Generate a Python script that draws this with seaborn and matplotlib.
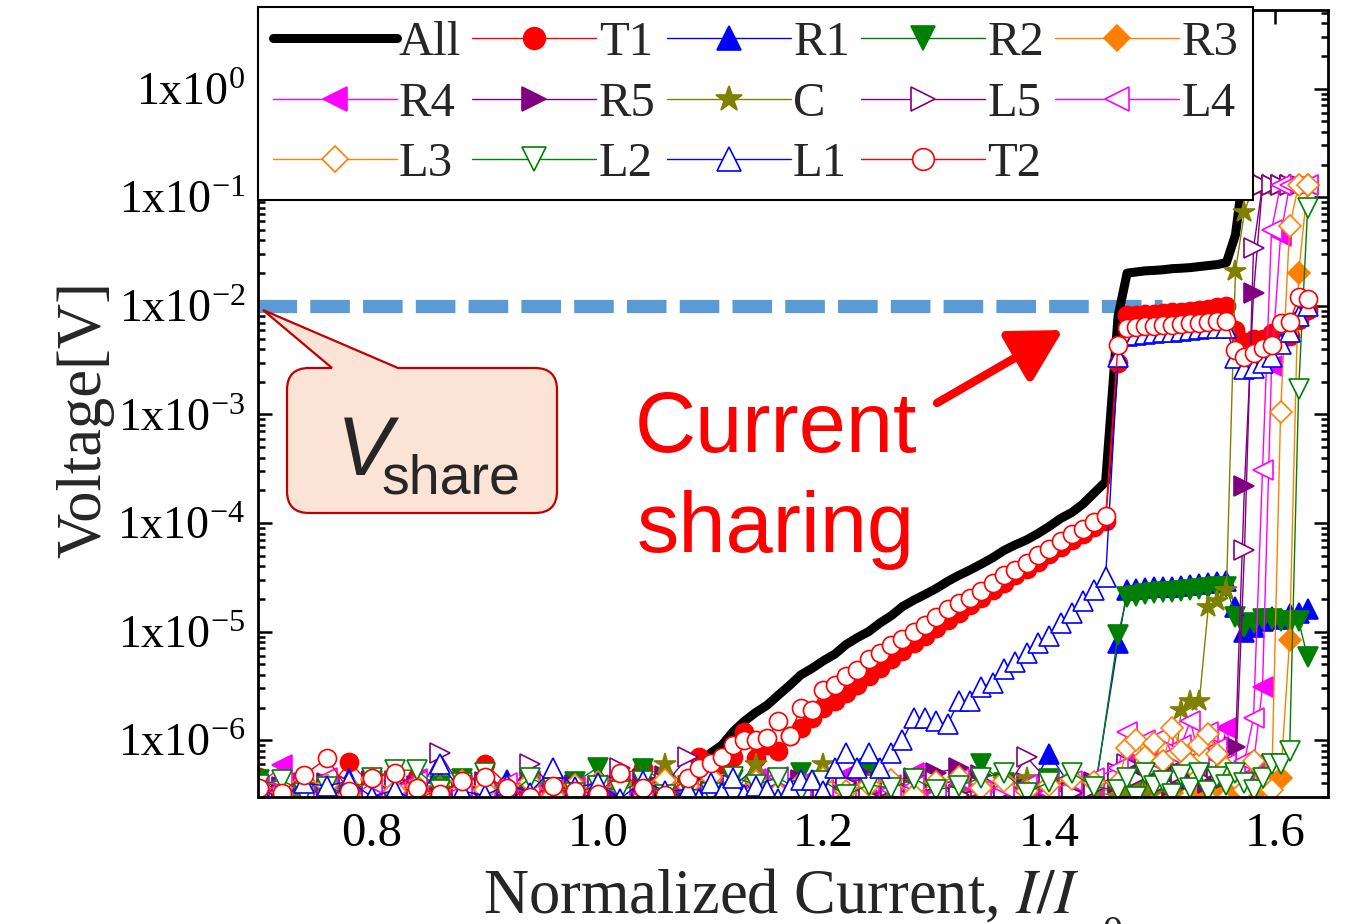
import matplotlib
matplotlib.use('Agg')
import matplotlib.pyplot as plt
import numpy as np
import pandas as pd
import seaborn as sns
from matplotlib.ticker import FuncFormatter, MultipleLocator, FormatStrFormatter, LogLocator, NullFormatter
from matplotlib.path import Path
from matplotlib.patches import PathPatch

# ---- x grids (normalized current I/Ic0) ----
x_lo = [0.70, 0.72, 0.74, 0.76, 0.78, 0.80, 0.82, 0.84, 0.86, 0.88, 0.90, 0.92, 0.94, 0.96, 0.98,
        1.00, 1.02, 1.04, 1.06]
x_mid = [1.08, 1.10, 1.12, 1.14, 1.16, 1.18, 1.20, 1.22, 1.24, 1.26, 1.28, 1.30, 1.32, 1.34, 1.36,
         1.38, 1.40, 1.42, 1.44]
x_rise = [1.08, 1.09, 1.10, 1.11, 1.12, 1.13, 1.14, 1.15, 1.16, 1.17, 1.18, 1.19, 1.20, 1.21, 1.22,
          1.23, 1.24, 1.25, 1.26, 1.27, 1.28, 1.29, 1.30, 1.31, 1.32, 1.33, 1.34, 1.35, 1.36, 1.37,
          1.38, 1.39, 1.40, 1.41, 1.42, 1.43, 1.44, 1.45]
x_share = [1.461, 1.469, 1.477, 1.485, 1.493, 1.501, 1.509, 1.517, 1.525, 1.533, 1.541, 1.549, 1.557]
x_high = [1.565, 1.573, 1.581, 1.589, 1.597, 1.605, 1.613, 1.621, 1.629]

# ---- voltages [V] ----
v_all_lo = [2.5e-7, 2.8e-7, 2.4e-7, 3.0e-7, 2.6e-7, 2.7e-7, 2.5e-7, 2.9e-7, 2.4e-7, 2.6e-7, 2.8e-7, 2.5e-7,
            2.7e-7, 2.4e-7, 3.1e-7, 2.6e-7, 3.2e-7, 2.8e-7, 3.3e-7]
v_all_rise = [3.5e-7, 5.0e-7, 7.6e-7, 9.0e-7, 1.2e-6, 1.5e-6, 1.8e-6, 2.1e-6, 2.6e-6, 3.2e-6, 4.0e-6, 4.6e-6,
              5.4e-6, 6.2e-6, 7.6e-6, 8.8e-6, 1.0e-5, 1.2e-5, 1.4e-5, 1.7e-5, 1.95e-5, 2.2e-5, 2.5e-5, 2.9e-5,
              3.3e-5, 3.7e-5, 4.2e-5, 4.8e-5, 5.6e-5, 6.3e-5, 7.0e-5, 8.0e-5, 9.3e-5, 1.1e-4, 1.25e-4, 1.5e-4,
              1.9e-4, 2.4e-4]
v_all_share = [8.0e-3, 2.0e-2, 2.05e-2, 2.1e-2, 2.12e-2, 2.15e-2, 2.2e-2, 2.22e-2, 2.25e-2, 2.3e-2, 2.35e-2,
               2.4e-2, 2.5e-2]
v_all_top = [4.5e-2, 0.2]

v_t1_lo = [4.6e-7, 3.0e-7, 4.1e-7, 3.4e-7, 6.3e-7, 3.8e-7, 2.8e-7, 4.6e-7, 3.6e-7, 3.1e-7, 6.1e-7, 3.9e-7,
           2.9e-7, 4.4e-7, 3.5e-7, 3.7e-7, 4.8e-7, 5.6e-7, 4.0e-7]
v_t1_rise = [4.0e-7, 7.0e-7, 5.0e-7, 6.0e-7, 7.0e-7, 1.2e-6, 6.8e-7, 9.0e-7, 8.0e-7, 1.1e-6, 1.3e-6, 1.6e-6,
             2.0e-6, 2.3e-6, 2.7e-6, 3.2e-6, 3.9e-6, 4.6e-6, 5.6e-6, 6.6e-6, 7.8e-6, 9.2e-6, 1.08e-5, 1.27e-5,
             1.5e-5, 1.75e-5, 2.05e-5, 2.4e-5, 2.8e-5, 3.3e-5, 3.8e-5, 4.4e-5, 5.2e-5, 6.0e-5, 7.0e-5, 8.0e-5,
             9.2e-5, 1.05e-4]
v_t1_share = [3.0e-3, 8.2e-3, 8.3e-3, 8.4e-3, 8.5e-3, 8.6e-3, 8.7e-3, 8.8e-3, 9.0e-3, 9.2e-3, 9.4e-3, 9.7e-3, 1.0e-2]
v_t1_high = [6.0e-3, 4.6e-3, 4.9e-3, 5.0e-3, 5.6e-3, 5.0e-3, 5.3e-3, 7.4e-3, 9.2e-3]

v_t2_lo = [3.6e-7, 3.3e-7, 4.8e-7, 6.8e-7, 3.4e-7, 4.5e-7, 5.0e-7, 3.6e-7, 3.2e-7, 4.2e-7, 4.6e-7, 3.6e-7,
           3.0e-7, 3.8e-7, 3.4e-7, 3.2e-7, 5.0e-7, 3.6e-7, 3.1e-7]
v_t2_rise = [4.5e-7, 5.6e-7, 6.2e-7, 7.0e-7, 9.0e-7, 1.0e-6, 1.0e-6, 1.05e-6, 1.5e-6, 1.1e-6, 2.0e-6, 1.9e-6,
             2.9e-6, 3.2e-6, 3.9e-6, 4.4e-6, 5.6e-6, 6.4e-6, 7.5e-6, 8.6e-6, 1.0e-5, 1.15e-5, 1.35e-5, 1.6e-5,
             1.85e-5, 2.05e-5, 2.35e-5, 2.8e-5, 3.3e-5, 3.7e-5, 4.3e-5, 5.1e-5, 5.8e-5, 6.8e-5, 8.0e-5, 8.8e-5,
             1.02e-4, 1.15e-4]
v_t2_share = [4.4e-3, 6.3e-3, 6.4e-3, 6.5e-3, 6.5e-3, 6.6e-3, 6.7e-3, 6.8e-3, 6.9e-3, 7.0e-3, 7.1e-3, 7.2e-3, 7.3e-3]
v_t2_high = [3.9e-3, 3.4e-3, 3.7e-3, 4.1e-3, 4.4e-3, 7.0e-3, 7.1e-3, 1.2e-2, 1.15e-2]

v_l1_lo = [3.6e-7, 2.9e-7, 4.0e-7, 3.8e-7, 4.2e-7, 3.0e-7, 3.5e-7, 2.7e-7, 6.1e-7, 3.4e-7, 3.1e-7, 3.9e-7,
           3.3e-7, 5.5e-7, 3.7e-7, 4.0e-7, 2.9e-7, 4.2e-7, 3.4e-7]
v_l1_rise = [3.5e-7, 2.9e-7, 4.0e-7, 3.3e-7, 4.5e-7, 3.1e-7, 3.8e-7, 3.5e-7, 2.9e-7, 3.6e-7, 4.3e-7, 4.3e-7,
             3.4e-7, 5.5e-7, 7.6e-7, 5.6e-7, 7.6e-7, 5.6e-7, 7.6e-7, 1.0e-6, 1.6e-6, 1.6e-6, 1.5e-6, 1.4e-6,
             2.3e-6, 2.3e-6, 3.1e-6, 3.4e-6, 4.5e-6, 5.2e-6, 6.4e-6, 7.8e-6, 9.2e-6, 1.2e-5, 1.5e-5, 1.9e-5,
             2.4e-5, 3.2e-5]
v_l1_share = [3.4e-3, 5.3e-3, 5.4e-3, 5.5e-3, 5.6e-3, 5.7e-3, 5.8e-3, 5.9e-3, 6.0e-3, 6.1e-3, 6.2e-3, 6.3e-3, 6.3e-3]
v_l1_high = [3.3e-3, 2.6e-3, 2.7e-3, 3.0e-3, 3.4e-3, 4.5e-3, 5.7e-3, 8.0e-3, 1.0e-2]

v_r1_lo = [3.4e-7, 4.0e-7, 2.6e-7, 3.5e-7, 4.4e-7, 3.0e-7, 3.8e-7, 3.4e-7, 4.1e-7, 2.9e-7, 3.6e-7, 4.3e-7,
           3.6e-7, 4.0e-7, 3.1e-7, 3.7e-7, 2.8e-7, 3.9e-7, 3.2e-7]
v_r1_mid = [3.6e-7, 4.2e-7, 3.8e-7, 5.5e-7, 3.3e-7, 2.9e-7, 4.4e-7, 3.2e-7, 3.6e-7, 4.1e-7, 2.8e-7, 3.7e-7,
            4.5e-7, 3.5e-7, 3.9e-7, 3.0e-7, 7.5e-7, 3.6e-7, 3.3e-7]
v_r1_share = [7.8e-6, 2.4e-5, 2.45e-5, 2.5e-5, 2.55e-5, 2.6e-5, 2.6e-5, 2.65e-5, 2.7e-5, 2.75e-5, 2.8e-5,
              2.85e-5, 2.9e-5]
v_r1_high = [1.7e-5, 1.0e-5, 1.1e-5, 1.25e-5, 1.37e-5, 1.3e-5, 1.45e-5, 1.5e-5, 1.6e-5]

v_r2_lo = [4.3e-7, 3.6e-7, 3.0e-7, 3.9e-7, 2.8e-7, 4.2e-7, 3.3e-7, 2.7e-7, 3.8e-7, 4.4e-7, 3.2e-7, 2.9e-7,
           3.7e-7, 3.3e-7, 4.1e-7, 5.6e-7, 3.0e-7, 5.4e-7, 3.5e-7]
v_r2_mid = [3.8e-7, 3.1e-7, 4.3e-7, 2.9e-7, 3.6e-7, 5.0e-7, 3.2e-7, 3.9e-7, 5.4e-7, 3.4e-7, 4.2e-7, 3.0e-7,
            3.8e-7, 6.0e-7, 4.0e-7, 3.4e-7, 4.4e-7, 3.7e-7, 3.1e-7]
v_r2_share = [9.3e-6, 2.1e-5, 2.15e-5, 2.2e-5, 2.25e-5, 2.3e-5, 2.3e-5, 2.35e-5, 2.4e-5, 2.45e-5, 2.5e-5,
              2.55e-5, 2.6e-5]
v_r2_high = [1.37e-5, 1.1e-5, 1.2e-5, 1.3e-5, 1.3e-5, 1.25e-5, 1.2e-5, 1.25e-5, 5.8e-6]

v_r3_lo = [3.2e-7, 4.0e-7, 3.5e-7, 2.9e-7, 3.8e-7, 3.3e-7, 4.2e-7, 3.0e-7, 3.6e-7, 2.8e-7, 3.9e-7, 3.4e-7,
           3.1e-7, 3.7e-7, 2.9e-7, 4.1e-7, 3.5e-7, 4.1e-7, 3.8e-7]
v_r3_mid = [3.3e-7, 3.9e-7, 3.0e-7, 4.3e-7, 3.4e-7, 3.6e-7, 3.1e-7, 4.0e-7, 2.9e-7, 3.7e-7, 3.3e-7, 4.2e-7,
            3.0e-7, 3.8e-7, 3.4e-7, 3.6e-7, 3.1e-7, 3.9e-7, 3.5e-7]
v_r3_share = [3.5e-7, 4.0e-7, 3.0e-7, 4.5e-7, 3.6e-7, 5.0e-7, 3.3e-7, 5.6e-7, 4.2e-7, 3.4e-7, 5.3e-7, 3.8e-7, 4.4e-7]
v_r3_high = [3.5e-7, 4.0e-7, 3.2e-7, 5.0e-7, 3.8e-7, 4.5e-7, 8.3e-6, 2.0e-2, 0.13]

v_r4_lo = [3.8e-7, 5.9e-7, 3.3e-7, 4.1e-7, 2.9e-7, 3.6e-7, 3.1e-7, 4.4e-7, 3.0e-7, 3.9e-7, 3.4e-7, 2.9e-7,
           4.2e-7, 3.3e-7, 3.7e-7, 3.0e-7, 4.0e-7, 3.1e-7, 3.6e-7]
v_r4_mid = [3.4e-7, 3.8e-7, 3.0e-7, 4.4e-7, 3.1e-7, 4.0e-7, 3.5e-7, 4.8e-7, 3.1e-7, 3.9e-7, 5.0e-7, 3.3e-7,
            4.1e-7, 2.9e-7, 3.8e-7, 3.4e-7, 4.2e-7, 3.0e-7, 3.6e-7]
v_r4_share = [4.5e-7, 6.5e-7, 5.0e-7, 7.5e-7, 5.5e-7, 4.2e-7, 6.8e-7, 5.2e-7, 7.0e-7, 4.8e-7, 6.0e-7, 5.5e-7, 1.3e-6]
v_r4_high = [5.0e-7, 4.5e-7, 6.0e-7, 3.1e-6, 2.8e-3, 4.4e-2, 0.13, 0.13, 0.13]

v_r5_lo = [3.0e-7, 3.7e-7, 3.3e-7, 4.0e-7, 2.8e-7, 4.2e-7, 3.4e-7, 3.8e-7, 3.0e-7, 3.5e-7, 4.1e-7, 2.9e-7,
           3.6e-7, 3.3e-7, 3.9e-7, 3.0e-7, 3.7e-7, 4.4e-7, 4.7e-7]
v_r5_mid = [3.5e-7, 4.2e-7, 3.4e-7, 3.9e-7, 3.2e-7, 4.3e-7, 3.0e-7, 4.0e-7, 4.6e-7, 3.3e-7, 4.5e-7, 5.0e-7,
            5.6e-7, 4.8e-7, 3.4e-7, 4.0e-7, 3.1e-7, 3.7e-7, 4.1e-7]
v_r5_share = [4.0e-7, 5.5e-7, 3.5e-7, 6.0e-7, 4.5e-7, 5.0e-7, 3.8e-7, 6.5e-7, 4.2e-7, 5.5e-7, 4.0e-7, 7.0e-7, 4.5e-7]
v_r5_high = [8.6e-7, 2.2e-4, 1.3e-2, 0.13, 0.13, 0.13, 0.13, 0.13, 0.13]

v_c_lo = [3.4e-7, 3.8e-7, 3.0e-7, 3.6e-7, 3.1e-7, 4.0e-7, 2.9e-7, 3.5e-7, 3.9e-7, 3.3e-7, 3.7e-7, 3.0e-7,
          4.5e-7, 3.4e-7, 3.6e-7, 3.1e-7, 4.1e-7, 2.9e-7, 6.1e-7]
v_c_mid = [3.3e-7, 3.6e-7, 3.1e-7, 6.1e-7, 3.5e-7, 3.9e-7, 6.1e-7, 3.3e-7, 3.7e-7, 3.0e-7, 4.0e-7, 3.4e-7,
           3.6e-7, 3.1e-7, 4.3e-7, 4.5e-7, 3.3e-7, 3.8e-7, 3.4e-7]
v_c_share = [3.0e-7, 3.5e-7, 4.0e-7, 3.2e-7, 4.5e-7, 3.8e-7, 3.3e-7, 1.9e-6, 2.3e-6, 2.3e-6, 1.7e-5, 1.9e-5, 2.4e-5]
v_c_high = [2.1e-2, 7.3e-2, 0.13, 0.13, 0.13, 0.13, 0.13, 0.13, 0.13]

v_l5_lo = [3.6e-7, 3.1e-7, 4.0e-7, 2.9e-7, 3.8e-7, 3.3e-7, 4.2e-7, 3.0e-7, 7.6e-7, 3.5e-7, 3.9e-7, 3.1e-7,
           6.1e-7, 3.7e-7, 3.4e-7, 3.8e-7, 5.5e-7, 2.9e-7, 4.0e-7]
v_l5_mid = [7.0e-7, 3.4e-7, 3.9e-7, 3.1e-7, 4.5e-7, 3.6e-7, 3.3e-7, 4.0e-7, 3.0e-7, 3.8e-7, 3.5e-7, 4.2e-7,
            3.1e-7, 3.7e-7, 3.4e-7, 7.0e-7, 4.1e-7, 3.3e-7, 3.6e-7]
v_l5_share = [5.0e-7, 6.0e-7, 4.5e-7, 7.0e-7, 5.5e-7, 4.0e-7, 6.5e-7, 5.0e-7, 7.5e-7, 4.5e-7, 6.0e-7, 5.5e-7, 4.8e-7]
v_l5_high = [4.5e-7, 5.6e-5, 3.4e-2, 0.13, 0.13, 0.13, 0.13, 0.13, 0.13]

v_l4_lo = [3.1e-7, 4.1e-7, 3.5e-7, 4.5e-7, 3.0e-7, 4.0e-7, 3.3e-7, 4.2e-7, 2.9e-7, 3.8e-7, 3.4e-7, 4.0e-7,
           3.1e-7, 3.6e-7, 3.0e-7, 3.9e-7, 3.5e-7, 3.3e-7, 3.7e-7]
v_l4_mid = [3.4e-7, 3.9e-7, 3.1e-7, 4.0e-7, 4.6e-7, 3.3e-7, 3.7e-7, 3.0e-7, 4.1e-7, 3.5e-7, 3.8e-7, 3.1e-7,
            4.4e-7, 3.4e-7, 3.6e-7, 3.9e-7, 3.3e-7, 4.2e-7, 4.5e-7]
v_l4_share = [5.5e-7, 1.2e-6, 8.0e-7, 1.0e-6, 6.5e-7, 1.1e-6, 7.5e-7, 9.0e-7, 1.5e-6, 7.0e-7, 1.2e-6, 8.5e-7, 6.0e-7]
v_l4_high = [5.0e-7, 6.5e-7, 1.6e-6, 3.1e-4, 5.0e-2, 0.13, 0.13, 0.13, 0.13]

v_l3_lo = [3.6e-7, 3.3e-7, 4.1e-7, 3.9e-7, 3.1e-7, 4.4e-7, 3.4e-7, 3.8e-7, 3.0e-7, 4.2e-7, 3.5e-7, 3.7e-7,
           4.1e-7, 3.1e-7, 3.9e-7, 3.4e-7, 4.0e-7, 3.6e-7, 4.3e-7]
v_l3_mid = [3.8e-7, 4.6e-7, 3.5e-7, 4.2e-7, 3.3e-7, 4.0e-7, 4.5e-7, 3.4e-7, 3.9e-7, 4.3e-7, 3.1e-7, 4.1e-7,
            4.6e-7, 3.6e-7, 4.2e-7, 3.4e-7, 3.9e-7, 4.4e-7, 4.1e-7]
v_l3_share = [4.0e-7, 8.5e-7, 1.0e-6, 7.0e-7, 9.5e-7, 6.5e-7, 1.3e-6, 8.0e-7, 6.0e-7, 9.0e-7, 1.15e-6, 7.5e-7, 5.5e-7]
v_l3_high = [4.5e-7, 3.5e-7, 6.5e-7, 4.0e-7, 3.5e-7, 1.05e-3, 5.4e-2, 0.13, 0.13]

v_l2_lo = [3.9e-7, 4.3e-7, 3.3e-7, 3.7e-7, 3.1e-7, 4.5e-7, 5.3e-7, 5.3e-7, 3.5e-7, 4.0e-7, 5.0e-7, 3.0e-7,
           4.5e-7, 3.6e-7, 3.3e-7, 3.8e-7, 3.4e-7, 4.2e-7, 3.1e-7]
v_l2_mid = [3.6e-7, 3.3e-7, 4.6e-7, 3.9e-7, 4.5e-7, 3.4e-7, 4.2e-7, 3.1e-7, 3.9e-7, 3.6e-7, 4.4e-7, 3.5e-7,
            3.8e-7, 4.5e-7, 5.0e-7, 3.3e-7, 4.1e-7, 5.0e-7, 3.7e-7]
v_l2_share = [3.5e-7, 4.5e-7, 3.0e-7, 5.0e-7, 3.8e-7, 4.2e-7, 3.2e-7, 4.8e-7, 3.6e-7, 5.0e-7, 3.4e-7, 4.6e-7, 3.9e-7]
v_l2_high = [5.0e-7, 4.0e-7, 3.5e-7, 4.5e-7, 6.0e-7, 6.0e-7, 8.0e-7, 1.7e-3, 8.0e-2]

v_share_level = 1e-2   # dashed V_share line

RED, BLUE, GREEN, ORANGE = '#ff0000', '#0000ff', '#008000', '#ff8000'
MAGENTA, PURPLE, OLIVE = '#ff00ff', '#800080', '#808000'

x_noise = x_lo + x_mid + x_share + x_high
x_riser = x_lo + x_rise + x_share + x_high

# label, x, y, colour, marker, filled, marker size
series = [
    ('All', x_lo + x_rise + x_share + x_high[:2], v_all_lo + v_all_rise + v_all_share + v_all_top, 'black', None, True, 0),
    ('T1', x_riser, v_t1_lo + v_t1_rise + v_t1_share + v_t1_high, RED, 'o', True, 13),
    ('R1', x_noise, v_r1_lo + v_r1_mid + v_r1_share + v_r1_high, BLUE, '^', True, 14),
    ('R2', x_noise, v_r2_lo + v_r2_mid + v_r2_share + v_r2_high, GREEN, 'v', True, 14),
    ('R3', x_noise, v_r3_lo + v_r3_mid + v_r3_share + v_r3_high, ORANGE, 'D', True, 11),
    ('R4', x_noise, v_r4_lo + v_r4_mid + v_r4_share + v_r4_high, MAGENTA, '<', True, 14),
    ('R5', x_noise, v_r5_lo + v_r5_mid + v_r5_share + v_r5_high, PURPLE, '>', True, 14),
    ('C', x_noise, v_c_lo + v_c_mid + v_c_share + v_c_high, OLIVE, '*', True, 16),
    ('L5', x_noise, v_l5_lo + v_l5_mid + v_l5_share + v_l5_high, PURPLE, '>', False, 14),
    ('L4', x_noise, v_l4_lo + v_l4_mid + v_l4_share + v_l4_high, MAGENTA, '<', False, 14),
    ('L3', x_noise, v_l3_lo + v_l3_mid + v_l3_share + v_l3_high, ORANGE, 'D', False, 11),
    ('L2', x_noise, v_l2_lo + v_l2_mid + v_l2_share + v_l2_high, GREEN, 'v', False, 14),
    ('L1', x_riser, v_l1_lo + v_l1_rise + v_l1_share + v_l1_high, BLUE, '^', False, 14),
    ('T2', x_riser, v_t2_lo + v_t2_rise + v_t2_share + v_t2_high, RED, 'o', False, 13),
]

sns.set_theme(style='ticks')
plt.rcParams['font.family'] = ['Liberation Serif', 'DejaVu Serif']
plt.rcParams['mathtext.fontset'] = 'stix'

W, H = 1367, 924
fig = plt.figure(figsize=(W / 100, H / 100), dpi=100, facecolor='white')
ax = fig.add_axes([258 / W, 1 - 797 / H, (1328 - 258) / W, (797 - 10) / H])
ax.set_facecolor('white')
ax.set_yscale('log')

# V_share reference line
ax.hlines(v_share_level, 0.698, 1.50, colors='#5b9bd5', linewidth=9.5,
          linestyles=(0, (3.0, 1.0)), zorder=1.5, clip_on=False)

for name, xs, vs, col, mk, filled, ms in series:
    df = pd.DataFrame({'I': xs, 'V': vs})
    if mk is None:
        sns.lineplot(data=df, x='I', y='V', ax=ax, color=col, linewidth=6.5,
                     estimator=None, sort=False, legend=False, label=name, zorder=2)
    else:
        sns.lineplot(data=df, x='I', y='V', ax=ax, color=col, linewidth=1.0,
                     marker=mk, markersize=ms,
                     markerfacecolor=col if filled else 'white',
                     markeredgecolor=col, markeredgewidth=1.2,
                     estimator=None, sort=False, legend=False, label=name, zorder=2)

ax.set_xlim(0.699, 1.647)
ax.set_ylim(3e-7, 5.3)
ax.set_xlabel('')
ax.set_ylabel('')

ax.xaxis.set_major_locator(MultipleLocator(0.2))
ax.xaxis.set_major_formatter(FormatStrFormatter('%.1f'))
ax.yaxis.set_major_locator(LogLocator(base=10, numticks=20))
ax.yaxis.set_minor_locator(LogLocator(base=10, subs=np.arange(2, 10), numticks=20))
ax.yaxis.set_minor_formatter(NullFormatter())
ax.yaxis.set_major_formatter(FuncFormatter(
    lambda v, p: r'1x10$^{\mathregular{%d}}$' % int(round(np.log10(v)))))

ax.tick_params(which='both', direction='in', top=True, right=True, width=1.8, colors='black')
ax.tick_params(which='major', length=10)
ax.tick_params(axis='x', which='major', pad=11, labelsize=35)
ax.tick_params(axis='y', which='major', pad=9, labelsize=33)
ax.tick_params(which='minor', length=5)
for sp in ax.spines.values():
    sp.set_linewidth(2.0)
    sp.set_color('black')

# legend: row-major order All..R3 / R4..L4 / L3..T2
handles, labels = ax.get_legend_handles_labels()
hmap = dict(zip(labels, handles))
order = ['All', 'R4', 'L3', 'T1', 'R5', 'L2', 'R1', 'C', 'L1', 'R2', 'L5', 'T2', 'R3', 'L4']
leg = ax.legend([hmap[k] for k in order], order, ncol=5, loc='upper left',
                bbox_to_anchor=(0, 0.76, 0.93, 0.244), mode='expand', borderaxespad=0,
                fontsize=35, handlelength=2.55, handletextpad=0.05, columnspacing=0.3,
                labelspacing=0.33, borderpad=0.3, fancybox=False, framealpha=1,
                edgecolor='black', markerscale=1.2)
leg.get_frame().set_linewidth(1.5)
leg.set_zorder(10)

# axis labels (subscript sits low and is cut by the canvas edge, as in the original)
xl = fig.text(483 / W, 1 - 913 / H, r'Normalized Current, $I/I$', fontsize=45,
              ha='left', va='baseline')
fig.canvas.draw()
bb = xl.get_window_extent(fig.canvas.get_renderer())
fig.text((bb.x1 + 4) / W, 1 - 945 / H, 'c0', fontsize=30, ha='left', va='baseline')
fig.text(85 / W, 1 - 419 / H, 'Voltage[V]', fontsize=45, rotation=90, ha='center', va='center')

# V_share callout (rounded box with pointer)
L, R, T, B, r = 287, 557, 368, 513, 22
pts = [(332, T), (263, 310), (398, T), (R - r, T), (R, T), (R, T + r), (R, B - r), (R, B), (R - r, B),
       (L + r, B), (L, B), (L, B - r), (L, T + r), (L, T), (L + r, T), (332, T)]
codes = [Path.MOVETO, Path.LINETO, Path.LINETO, Path.LINETO, Path.CURVE3, Path.CURVE3, Path.LINETO,
         Path.CURVE3, Path.CURVE3, Path.LINETO, Path.CURVE3, Path.CURVE3, Path.LINETO, Path.CURVE3,
         Path.CURVE3, Path.CLOSEPOLY]
path = Path([(px / W, 1 - py / H) for px, py in pts], codes)
fig.patches.append(PathPatch(path, transform=fig.transFigure, facecolor='#fbe4d5',
                             edgecolor='#c00000', linewidth=1.6, zorder=20))
fig.text(337 / W, 1 - 475 / H, 'V', fontsize=60, style='italic', family='Liberation Sans',
         ha='left', va='baseline', zorder=21)
fig.text(381 / W, 1 - 493 / H, 'share', fontsize=40, family='Liberation Sans',
         ha='left', va='baseline', zorder=21)

# "Current sharing" note with arrow
fig.text(635 / W, 1 - 452 / H, 'Current', fontsize=61, color='red', family='Liberation Sans',
         ha='left', va='baseline', zorder=21)
fig.text(637 / W, 1 - 552 / H, 'sharing', fontsize=61, color='red', family='Liberation Sans',
         ha='left', va='baseline', zorder=21)
ax.annotate('', xy=(1063, H - 330), xytext=(937, H - 403), xycoords='figure pixels',
            textcoords='figure pixels',
            arrowprops=dict(arrowstyle='-|>,head_length=0.45,head_width=0.25', lw=6, color='red',
                            mutation_scale=70, shrinkA=0, shrinkB=0), zorder=21)

fig.savefig('out.png', dpi=100, facecolor='white')
